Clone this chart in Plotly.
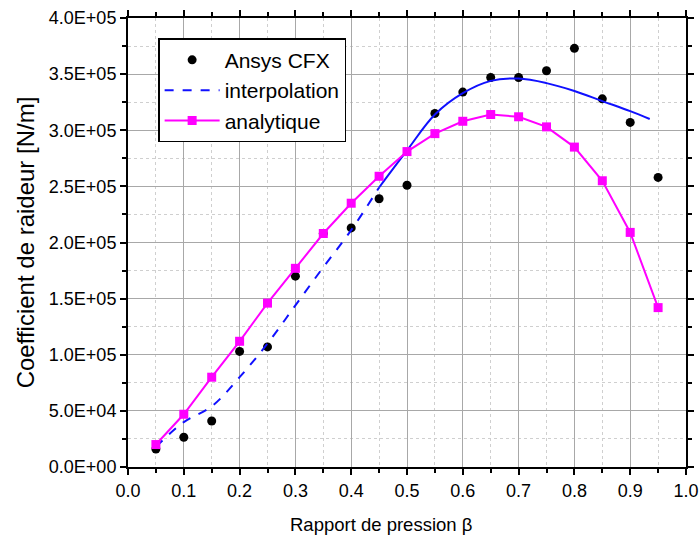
import plotly.graph_objects as go

# Pressure ratio values
beta = [0.05, 0.10, 0.15, 0.20, 0.25, 0.30, 0.35, 0.40, 0.45, 0.50,
        0.55, 0.60, 0.65, 0.70, 0.75, 0.80, 0.85, 0.90, 0.95]

# Stiffness coefficient from CFD (Ansys CFX) [N/m]
k_cfx = [1.6e4, 2.65e4, 4.1e4, 1.03e5, 1.07e5, 1.70e5, 2.08e5, 2.13e5, 2.39e5, 2.51e5,
         3.15e5, 3.34e5, 3.47e5, 3.47e5, 3.53e5, 3.73e5, 3.28e5, 3.07e5, 2.58e5]

# Stiffness coefficient from the analytical model [N/m]
k_analytique = [2.0e4, 4.7e4, 8.0e4, 1.12e5, 1.46e5, 1.77e5, 2.08e5, 2.35e5, 2.59e5, 2.81e5,
                2.97e5, 3.08e5, 3.14e5, 3.12e5, 3.03e5, 2.85e5, 2.55e5, 2.09e5, 1.42e5]

# Interpolation curve of the CFD results
interp_beta = [0.05, 0.10, 0.15, 0.20, 0.25, 0.30, 0.35, 0.40, 0.45, 0.50,
               0.55, 0.60, 0.65, 0.70, 0.75, 0.80, 0.85, 0.90, 0.935]
interp_k = [1.8e4, 4.0e4, 5.4e4, 8.0e4, 1.10e5, 1.44e5, 1.78e5, 2.11e5, 2.49e5, 2.82e5,
            3.14e5, 3.33e5, 3.44e5, 3.46e5, 3.42e5, 3.35e5, 3.26e5, 3.17e5, 3.10e5]
interp_split = 0.45  # dashed below, solid above

x_ticks = [i / 10 for i in range(11)]
x_ticktext = ["0.0", "0.1", "0.2", "0.3", "0.4", "0.5", "0.6", "0.7", "0.8", "0.9", "1.0"]
y_ticks = [i * 5e4 for i in range(9)]
y_ticktext = ["0.0E+00", "5.0E+04", "1.0E+05", "1.5E+05", "2.0E+05",
              "2.5E+05", "3.0E+05", "3.5E+05", "4.0E+05"]

FONT = "Arial, Liberation Sans, sans-serif"
BLUE = "#1010ff"
MAGENTA = "#ff00ff"

lo_x = [b for b in interp_beta if b <= interp_split]
lo_y = [k for b, k in zip(interp_beta, interp_k) if b <= interp_split]
hi_x = [b for b in interp_beta if b >= interp_split]
hi_y = [k for b, k in zip(interp_beta, interp_k) if b >= interp_split]

fig = go.Figure()
fig.add_trace(go.Scatter(
    x=beta, y=k_cfx, mode="markers", name="Ansys CFX",
    marker=dict(symbol="circle", size=9, color="black")))
fig.add_trace(go.Scatter(
    x=lo_x, y=lo_y, mode="lines", name="interpolation",
    line=dict(color=BLUE, width=2, dash="dash", shape="spline")))
fig.add_trace(go.Scatter(
    x=hi_x, y=hi_y, mode="lines", name="interpolation", showlegend=False,
    line=dict(color=BLUE, width=2, shape="spline")))
fig.add_trace(go.Scatter(
    x=beta, y=k_analytique, mode="lines+markers", name="analytique",
    line=dict(color=MAGENTA, width=2),
    marker=dict(symbol="square", size=9, color=MAGENTA)))

axis_common = dict(showline=True, linecolor="black", linewidth=2, zeroline=False,
                   mirror="allticks", automargin=False,
                   tickfont=dict(family=FONT, size=18, color="black"),
                   ticks="outside", ticklen=6, tickwidth=1.5, tickcolor="black",
                   showgrid=True, gridcolor="#a8a8a8", gridwidth=1.2)

fig.update_layout(
    width=700, height=541,
    paper_bgcolor="white", plot_bgcolor="white",
    margin=dict(l=128, r=14, t=18, b=74),
    font=dict(family=FONT, color="black"),
    xaxis=dict(range=[0, 1], tickvals=x_ticks, ticktext=x_ticktext,
               minor=dict(dtick=0.05, tick0=0, ticks="outside", ticklen=4, tickcolor="black",
                          showgrid=True, gridcolor="#cfcfcf", griddash="dot", gridwidth=1),
               **axis_common),
    yaxis=dict(range=[0, 4e5], tickvals=y_ticks, ticktext=y_ticktext,
               title=dict(text="Coefficient de raideur [N/m]", font=dict(family=FONT, size=24),
                          standoff=7),
               minor=dict(dtick=2.5e4, tick0=0, ticks="outside", ticklen=4, tickcolor="black",
                          showgrid=True, gridcolor="#cfcfcf", griddash="dot", gridwidth=1),
               **axis_common),
    legend=dict(x=0.054, y=0.955, xanchor="left", yanchor="top",
                bgcolor="white", bordercolor="black", borderwidth=1.5,
                font=dict(family=FONT, size=21, color="black"),
                tracegroupgap=0, itemwidth=55),
    showlegend=True,
    annotations=[dict(text="Rapport de pression β", xref="paper", yref="paper",
                      x=0.453, y=-0.129, xanchor="center", yanchor="middle",
                      showarrow=False, font=dict(family=FONT, size=18.5, color="black"))],
)

fig.write_html("out.html")
